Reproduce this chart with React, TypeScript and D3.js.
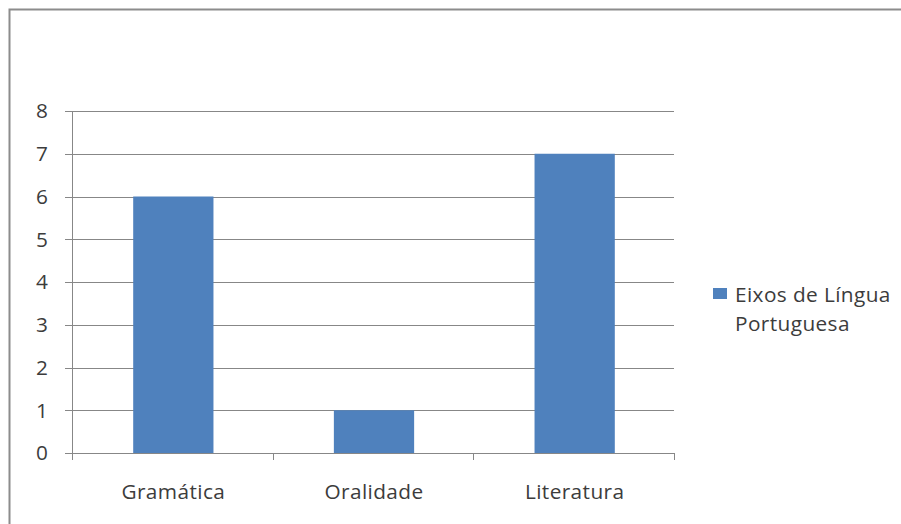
import React from "react";
import * as d3 from "d3";

const categories = ["Gramática", "Oralidade", "Literatura"];
const values = [6, 1, 7];
const yTicks = [0, 1, 2, 3, 4, 5, 6, 7, 8];
const seriesName = ["Eixos de Língua", "Portuguesa"];

const W = 901;
const H = 524;
const plot = { left: 72, right: 674, top: 111, bottom: 453 };
const FONT = "'Open Sans', 'Noto Sans', sans-serif";
const FS = 20.8;
const LS = 0.4;
const TEXT = "#3c3c3c";
const GRID = "#878787";
const BAR = "#4F81BD";

export default function App() {
  const x = d3
    .scaleBand<string>()
    .domain(categories)
    .range([plot.left, plot.right])
    .paddingInner(0)
    .paddingOuter(0);
  const y = d3.scaleLinear().domain([0, 8]).range([plot.bottom, plot.top]);
  const barW = x.bandwidth() / 2.5;
  const boundaries = d3.range(categories.length + 1).map((i) => plot.left + i * x.bandwidth());

  return (
    <svg
      width={W}
      height={H}
      style={{ position: "absolute", left: 0, top: 0, background: "#fff" }}
    >
      {/* chart frame: left and top edges */}
      <path d={`M9.5,${H} V9.5 H${W}`} fill="none" stroke="#8c8c8c" strokeWidth={2} />

      {/* horizontal gridlines and y ticks */}
      {yTicks.map((t) => (
        <g key={t}>
          <line x1={plot.left - 7} x2={plot.right} y1={Math.round(y(t)) + 0.5} y2={Math.round(y(t)) + 0.5} stroke={GRID} strokeWidth={1} />
          <text
            x={48}
            y={y(t)}
            dy="0.36em"
            textAnchor="end"
            fontFamily={FONT}
            fontSize={FS}
            fill={TEXT}
          >
            {t}
          </text>
        </g>
      ))}

      {/* y axis line */}
      <line x1={plot.left + 0.5} x2={plot.left + 0.5} y1={plot.top} y2={plot.bottom} stroke={GRID} />

      {/* category tick marks */}
      {boundaries.map((b, i) => (
        <line key={i} x1={Math.round(b) + 0.5} x2={Math.round(b) + 0.5} y1={plot.bottom} y2={plot.bottom + 7} stroke={GRID} />
      ))}

      {/* bars */}
      {categories.map((c, i) => (
        <rect
          key={c}
          x={(x(c) as number) + x.bandwidth() / 2 - barW / 2 + 1}
          y={y(values[i])}
          width={barW}
          height={y(0) - y(values[i])}
          fill={BAR}
        />
      ))}

      {/* category labels */}
      {categories.map((c) => (
        <text
          key={c}
          x={(x(c) as number) + x.bandwidth() / 2 + 1}
          y={499}
          textAnchor="middle"
          fontFamily={FONT}
          fontSize={FS}
          letterSpacing={LS}
          fill={TEXT}
        >
          {c}
        </text>
      ))}

      {/* legend */}
      <rect x={713} y={288} width={14} height={11} fill={BAR} />
      {seriesName.map((s, i) => (
        <text key={s} x={735} y={302 + i * 29} fontFamily={FONT} fontSize={FS} letterSpacing={LS} fill={TEXT}>
          {s}
        </text>
      ))}
    </svg>
  );
}
